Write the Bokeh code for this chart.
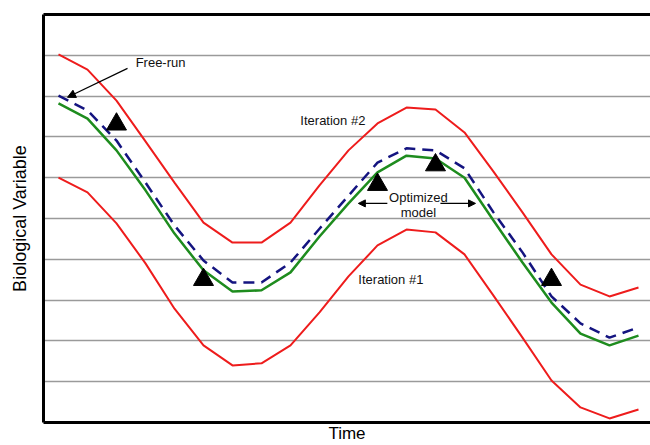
import math
from bokeh.plotting import figure
from bokeh.models import Range1d, LinearAxis, FixedTicker, Label, Arrow, NormalHead, Grid
from bokeh.embed import file_html
from bokeh.resources import INLINE

# ---- data ----
time = list(range(21))
iteration2 = [9.02, 8.65, 7.89, 6.89, 5.88, 4.90, 4.41, 4.41, 4.90, 5.81, 6.67,
              7.33, 7.72, 7.67, 7.11, 6.15, 5.15, 4.12, 3.38, 3.09, 3.31]
iteration1 = [6.00, 5.64, 4.88, 3.90, 2.79, 1.89, 1.40, 1.45, 1.89, 2.70, 3.58,
              4.34, 4.73, 4.66, 4.12, 3.11, 2.08, 1.03, 0.37, 0.10, 0.32]
optimized = [7.82, 7.45, 6.67, 5.69, 4.63, 3.73, 3.21, 3.24, 3.68, 4.56, 5.37,
             6.13, 6.54, 6.47, 6.00, 4.95, 3.92, 2.94, 2.18, 1.89, 2.13]
free_run = [8.01, 7.65, 6.91, 5.88, 4.83, 3.97, 3.43, 3.43, 3.92, 4.75, 5.56,
            6.37, 6.72, 6.67, 6.23, 5.15, 4.17, 3.09, 2.43, 2.08, 2.33]
marker_time = [2, 5, 11, 13, 17]
marker_value = [7.31, 3.50, 5.83, 6.31, 3.50]
grid_levels = [1, 2, 3, 4, 5, 6, 7, 8, 9]

FONT = "Liberation Sans"

p = figure(width=650, height=445, output_backend="svg", toolbar_location=None,
           x_range=Range1d(-0.517, 20.414), y_range=Range1d(0, 10),
           x_axis_type=None, y_axis_type=None,
           min_border_left=43, min_border_right=0, min_border_top=14, min_border_bottom=23)
p.outline_line_color = None
p.background_fill_color = "white"
p.border_fill_color = "white"

def frame_axis(label="", standoff=14, size="18px"):
    ax = LinearAxis(ticker=FixedTicker(ticks=[]))
    ax.axis_line_width = 3
    ax.axis_line_color = "black"
    ax.major_tick_line_color = None
    ax.minor_tick_line_color = None
    ax.major_tick_out = 0
    ax.major_tick_in = 0
    ax.minor_tick_out = 0
    ax.major_label_text_font_size = "0px"
    ax.major_label_standoff = 0
    if label:
        ax.axis_label = label
        ax.axis_label_text_font = FONT
        ax.axis_label_text_font_size = size
        ax.axis_label_text_font_style = "normal"
        ax.axis_label_text_color = "black"
        ax.axis_label_standoff = standoff
    return ax

p.add_layout(frame_axis("Biological Variable", 14, "18px"), "left")
p.add_layout(frame_axis("Time", 1, "17px"), "below")
p.add_layout(frame_axis(), "above")

p.add_layout(Grid(dimension=1, ticker=FixedTicker(ticks=grid_levels),
                  grid_line_color="#9a9a9a", grid_line_width=1.6))

# ---- series ----
p.line(time, iteration2, line_color="#ee1c1c", line_width=2)
p.line(time, iteration1, line_color="#ee1c1c", line_width=2)
p.line(time, optimized, line_color="#1e8c1e", line_width=2.5)
p.line(time, free_run, line_color="#141480", line_width=2.5, line_dash="11 7")
p.scatter(marker_time, marker_value, marker="triangle", size=20,
          fill_color="black", line_color="black")

# ---- annotations ----
def lab(x, y, text, align="left", size="13px"):
    p.add_layout(Label(x=x, y=y, text=text, text_font=FONT, text_font_size=size,
                       text_align=align, text_baseline="middle", text_color="#111111"))

lab(2.66, 8.82, "Free-run")
lab(8.34, 7.40, "Iteration #2")
lab(12.41, 5.52, "Optimized", align="center")
lab(12.41, 5.15, "model", align="center")
lab(10.34, 3.50, "Iteration #1")

p.add_layout(Arrow(end=NormalHead(size=8, fill_color="black", line_color="black"),
                   x_start=2.38, y_start=8.68, x_end=0.31, y_end=7.97,
                   line_width=1.2, line_color="black"))
p.add_layout(Arrow(end=NormalHead(size=7, fill_color="black", line_color="black"),
                   x_start=11.34, y_start=5.37, x_end=10.34, y_end=5.37,
                   line_width=1.2, line_color="black"))
p.add_layout(Arrow(end=NormalHead(size=7, fill_color="black", line_color="black"),
                   x_start=13.17, y_start=5.37, x_end=14.38, y_end=5.37,
                   line_width=1.2, line_color="black"))

open("out.html", "w").write(file_html(p, INLINE))
